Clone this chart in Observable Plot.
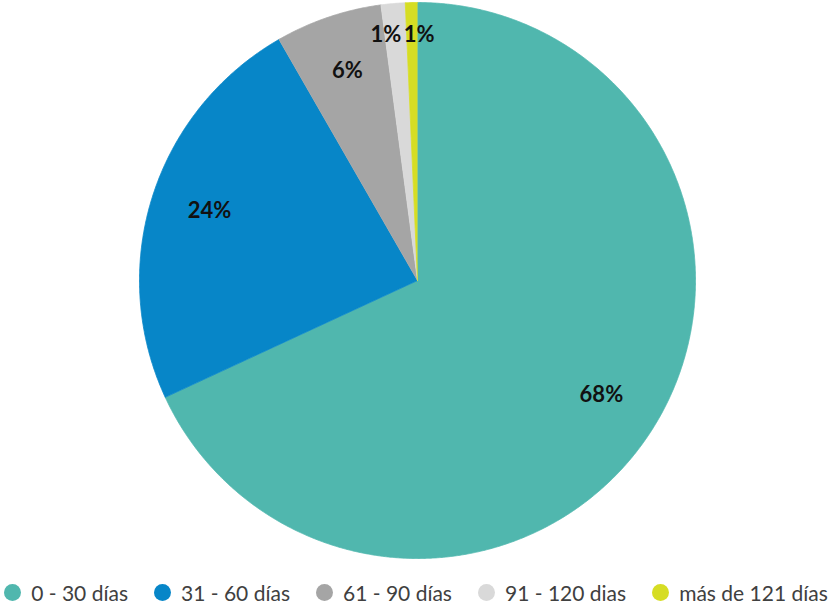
<!DOCTYPE html>
<html>
<head>
<meta charset="utf-8">
<script src="https://cdn.jsdelivr.net/npm/d3@7"></script>
<script src="https://cdn.jsdelivr.net/npm/@observablehq/plot@0.6"></script>
<style>
  html, body { margin: 0; padding: 0; background: #fff; }
  #chart { width: 832px; }
  .legend { display: flex; justify-content: center; align-items: center; height: 52px; font-family: Lato, "Open Sans", sans-serif; font-size: 21px; color: #404040; gap: 26px; white-space: nowrap; }
  .item { display: flex; align-items: center; flex-shrink: 0; }
  .dot { width: 17px; height: 17px; border-radius: 50%; margin-right: 10px; flex-shrink: 0; }
</style>
</head>
<body>
<div id="chart"></div>
<script>
const categories = ["0 - 30 días", "31 - 60 días", "61 - 90 días", "91 - 120 dias", "más de 121 días"];
const values = [68.1, 23.6, 6.2, 1.4, 0.7];
const colors = ["#50B7AE", "#0786C8", "#A5A5A5", "#D9D9D9", "#D6DD24"];

const W = 832, H = 566, cx = 417, cy = 280, r = 278;
const total = d3.sum(values);

// slice outlines (unit circle, angle measured clockwise from 12 o'clock)
const slicePts = [];
const labels = [];
let acc = 0;
values.forEach((v, i) => {
  const a0 = acc / total * 2 * Math.PI;
  acc += v;
  const a1 = acc / total * 2 * Math.PI;
  slicePts.push({cat: categories[i], x: 0, y: 0});
  const n = Math.max(2, Math.ceil((a1 - a0) / (Math.PI / 720)));
  for (let k = 0; k <= n; k++) {
    const a = a0 + (a1 - a0) * k / n;
    slicePts.push({cat: categories[i], x: Math.sin(a), y: Math.cos(a)});
  }
  const am = (a0 + a1) / 2;
  const lr = v < 3 ? 0.885 : 0.785;
  labels.push({cat: categories[i], v, x: lr * Math.sin(am), y: lr * Math.cos(am), text: Math.round(v) + "%"});
});

const big = labels.filter(d => d.v >= 3);
const small = labels.filter(d => d.v < 3);
const lbl = {x: "x", y: "y", text: "text", fontSize: 22, fontWeight: "bold", fill: "#111"};

const plot = Plot.plot({
  width: W,
  height: H,
  margin: 0,
  x: {domain: [-cx / r, (W - cx) / r], range: [0, W], axis: null},
  y: {domain: [-(H - cy) / r, cy / r], range: [H, 0], axis: null},
  color: {domain: categories, range: colors},
  style: {fontFamily: "Lato, 'Open Sans', sans-serif", background: "white"},
  marks: [
    Plot.line(slicePts, {x: "x", y: "y", z: "cat", fill: "cat", stroke: "cat", strokeWidth: 0.8, curve: "linear"}),
    Plot.text(big, {...lbl, dy: -3}),
    Plot.text(small.slice(0, 1), {...lbl, dx: -10}),
    Plot.text(small.slice(1), {...lbl, dx: 7})
  ]
});
document.getElementById("chart").appendChild(plot);

const legend = document.createElement("div");
legend.className = "legend";
categories.forEach((c, i) => {
  const it = document.createElement("div");
  it.className = "item";
  const dot = document.createElement("span");
  dot.className = "dot";
  dot.style.background = colors[i];
  const t = document.createElement("span");
  t.textContent = c;
  it.appendChild(dot);
  it.appendChild(t);
  legend.appendChild(it);
});
document.getElementById("chart").appendChild(legend);
</script>
</body>
</html>
